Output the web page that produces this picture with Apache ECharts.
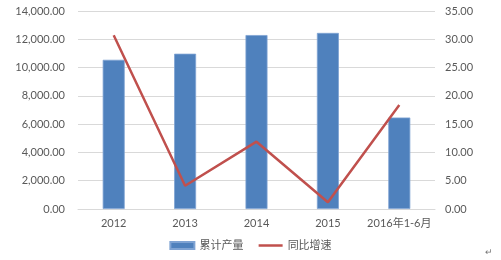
<!DOCTYPE html>
<html><head><meta charset="utf-8">
<script src="https://cdn.jsdelivr.net/npm/echarts@6/dist/echarts.min.js"></script>
<style>html,body{margin:0;padding:0;background:#fff}#c{width:501px;height:260px}</style>
</head><body><div id="c"></div>
<script>
var categories = ['2012', '2013', '2014', '2015', '2016年1-6月'];
var output = [10550, 10980, 12300, 12450, 6470];
var growth = [30.7, 4.1, 11.9, 1.2, 18.4];
var seriesNames = ['累计产量', '同比增速'];

function fmt(v) {
  return Number(v).toFixed(2).replace(/\B(?=(\d{3})+(?!\d))/g, ',');
}
var font = 'Lato, "Noto Sans CJK SC", sans-serif';
var chart = echarts.init(document.getElementById('c'), null, {renderer: 'canvas'});
chart.setOption({
  animation: false,
  backgroundColor: '#fff',
  grid: {left: 78, right: 66, top: 11, bottom: 51, containLabel: false},
  legend: {
    bottom: 4, left: 'center',
    itemGap: 14, itemWidth: 24, itemHeight: 7,
    textStyle: {color: '#595959', fontSize: 11, fontFamily: font},
    data: [
      {name: seriesNames[0], icon: 'rect'},
      {name: seriesNames[1], itemStyle: {color: 'rgba(0,0,0,0)', borderWidth: 0}, lineStyle: {color: '#C0504D', width: 2.5}}
    ]
  },
  xAxis: {
    type: 'category', data: categories,
    axisLine: {lineStyle: {color: '#d9d9d9', width: 1}},
    axisTick: {show: false},
    axisLabel: {color: '#595959', fontSize: 11, fontFamily: font, margin: 9, interval: 0}
  },
  yAxis: [{
    type: 'value', min: 0, max: 14000, interval: 2000,
    axisLine: {show: false}, axisTick: {show: false},
    splitLine: {lineStyle: {color: '#d9d9d9', width: 1}},
    axisLabel: {color: '#595959', fontSize: 11, fontFamily: font, margin: 13, formatter: fmt}
  }, {
    type: 'value', min: 0, max: 35, interval: 5,
    axisLine: {show: false}, axisTick: {show: false},
    splitLine: {show: false},
    axisLabel: {color: '#595959', fontSize: 11, fontFamily: font, margin: 10, formatter: fmt}
  }],
  series: [{
    name: seriesNames[0], type: 'bar', data: output, barWidth: 22,
    itemStyle: {color: '#4F81BD', borderColor: '#7fa3d3', borderWidth: 0.8}
  }, {
    name: seriesNames[1], type: 'line', yAxisIndex: 1, data: growth,
    symbol: 'none', lineStyle: {color: '#C0504D', width: 2.5}, itemStyle: {color: '#C0504D'}
  }],
  graphic: [{type: 'text', left: 485, top: 248, style: {text: '↵', fill: '#777', fontSize: 9, fontFamily: font}}]
});
</script></body></html>
